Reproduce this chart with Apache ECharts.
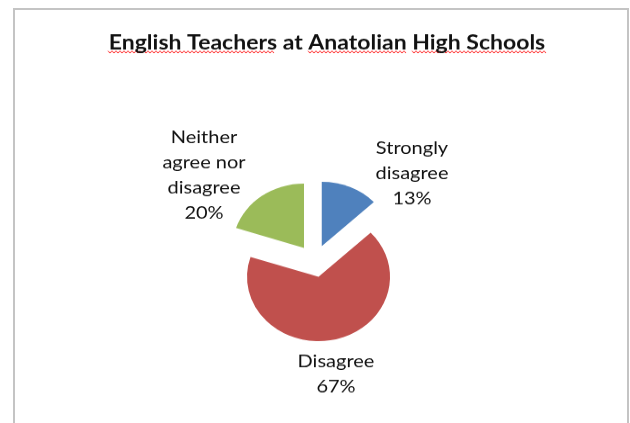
<!DOCTYPE html>
<html>
<head>
<meta charset="utf-8">
<script src="https://cdn.jsdelivr.net/npm/echarts@6/dist/echarts.min.js"></script>
<style>
  html, body { margin: 0; padding: 0; background: #fff; overflow: hidden; }
  #frame {
    position: absolute; left: 13px; top: 8px; width: 616px; height: 440px;
    border: 2px solid #c4c4c4; box-sizing: border-box;
  }
  /* the source picture was squashed vertically, so draw tall and squash it too */
  #chart {
    position: absolute; left: 0; top: 0; width: 630px; height: 470px;
    transform: scaleY(0.9); transform-origin: 0 0;
  }
</style>
</head>
<body>
<div id="frame"></div>
<div id="chart"></div>
<script>
const titleText = 'English Teachers at Anatolian High Schools'
const categories = ['Strongly\ndisagree', 'Disagree', 'Neither\nagree nor\ndisagree']
const shares = [13, 67, 20]
const colors = ['#4f81bd', '#c0504d', '#9bbb59']

// label centres as Excel placed them (best fit), in unsquashed px
const labelSpots = [[412, 193], [336, 416], [204, 195]]

const pieCenter = [314.6, 290]
const pieRadius = 71.5

// red spell-check squiggles under the title words
const squiggleSpans = [[108, 275], [308, 406], [412, 546]]
function squiggle(x0, x1) {
  const pts = []
  let up = true
  for (let x = x0; x <= x1; x += 2) {
    pts.push([x, up ? 56.6 : 59])
    up = !up
  }
  return {
    type: 'polyline',
    silent: true,
    shape: { points: pts },
    style: { stroke: '#f22', lineWidth: 1, fill: null }
  }
}

const chart = echarts.init(document.getElementById('chart'))
chart.setOption({
  animation: false,
  title: {
    text: titleText,
    left: 322,
    top: 31,
    textAlign: 'center',
    textStyle: {
      fontFamily: 'Lato',
      fontWeight: 'bold',
      fontSize: 23,
      color: '#111'
    }
  },
  graphic: squiggleSpans.map(s => squiggle(s[0], s[1])),
  series: [{
    // the exploded slices
    type: 'pie',
    center: pieCenter,
    radius: pieRadius,
    startAngle: 90,
    clockwise: true,
    selectedMode: 'multiple',
    selectedOffset: 18,
    emphasis: { disabled: true },
    silent: true,
    label: { show: false },
    labelLine: { show: false },
    data: categories.map((name, i) => ({
      name: name,
      value: shares[i],
      selected: true,
      itemStyle: { color: colors[i] }
    }))
  }, {
    // same data again, only to carry the labels (selected slices pin their labels)
    type: 'pie',
    center: pieCenter,
    radius: pieRadius,
    startAngle: 90,
    clockwise: true,
    silent: true,
    emphasis: { disabled: true },
    itemStyle: { color: 'rgba(0,0,0,0)', borderWidth: 0 },
    label: {
      show: true,
      position: 'outside',
      formatter: p => p.name + '\n' + p.value + '%',
      fontFamily: 'Lato',
      fontSize: 20,
      lineHeight: 28,
      color: '#111',
      align: 'center'
    },
    labelLine: { show: false },
    labelLayout: p => ({
      x: labelSpots[p.dataIndex][0],
      y: labelSpots[p.dataIndex][1],
      align: 'center',
      verticalAlign: 'middle'
    }),
    data: categories.map((name, i) => ({ name: name, value: shares[i] }))
  }]
})
</script>
</body>
</html>
